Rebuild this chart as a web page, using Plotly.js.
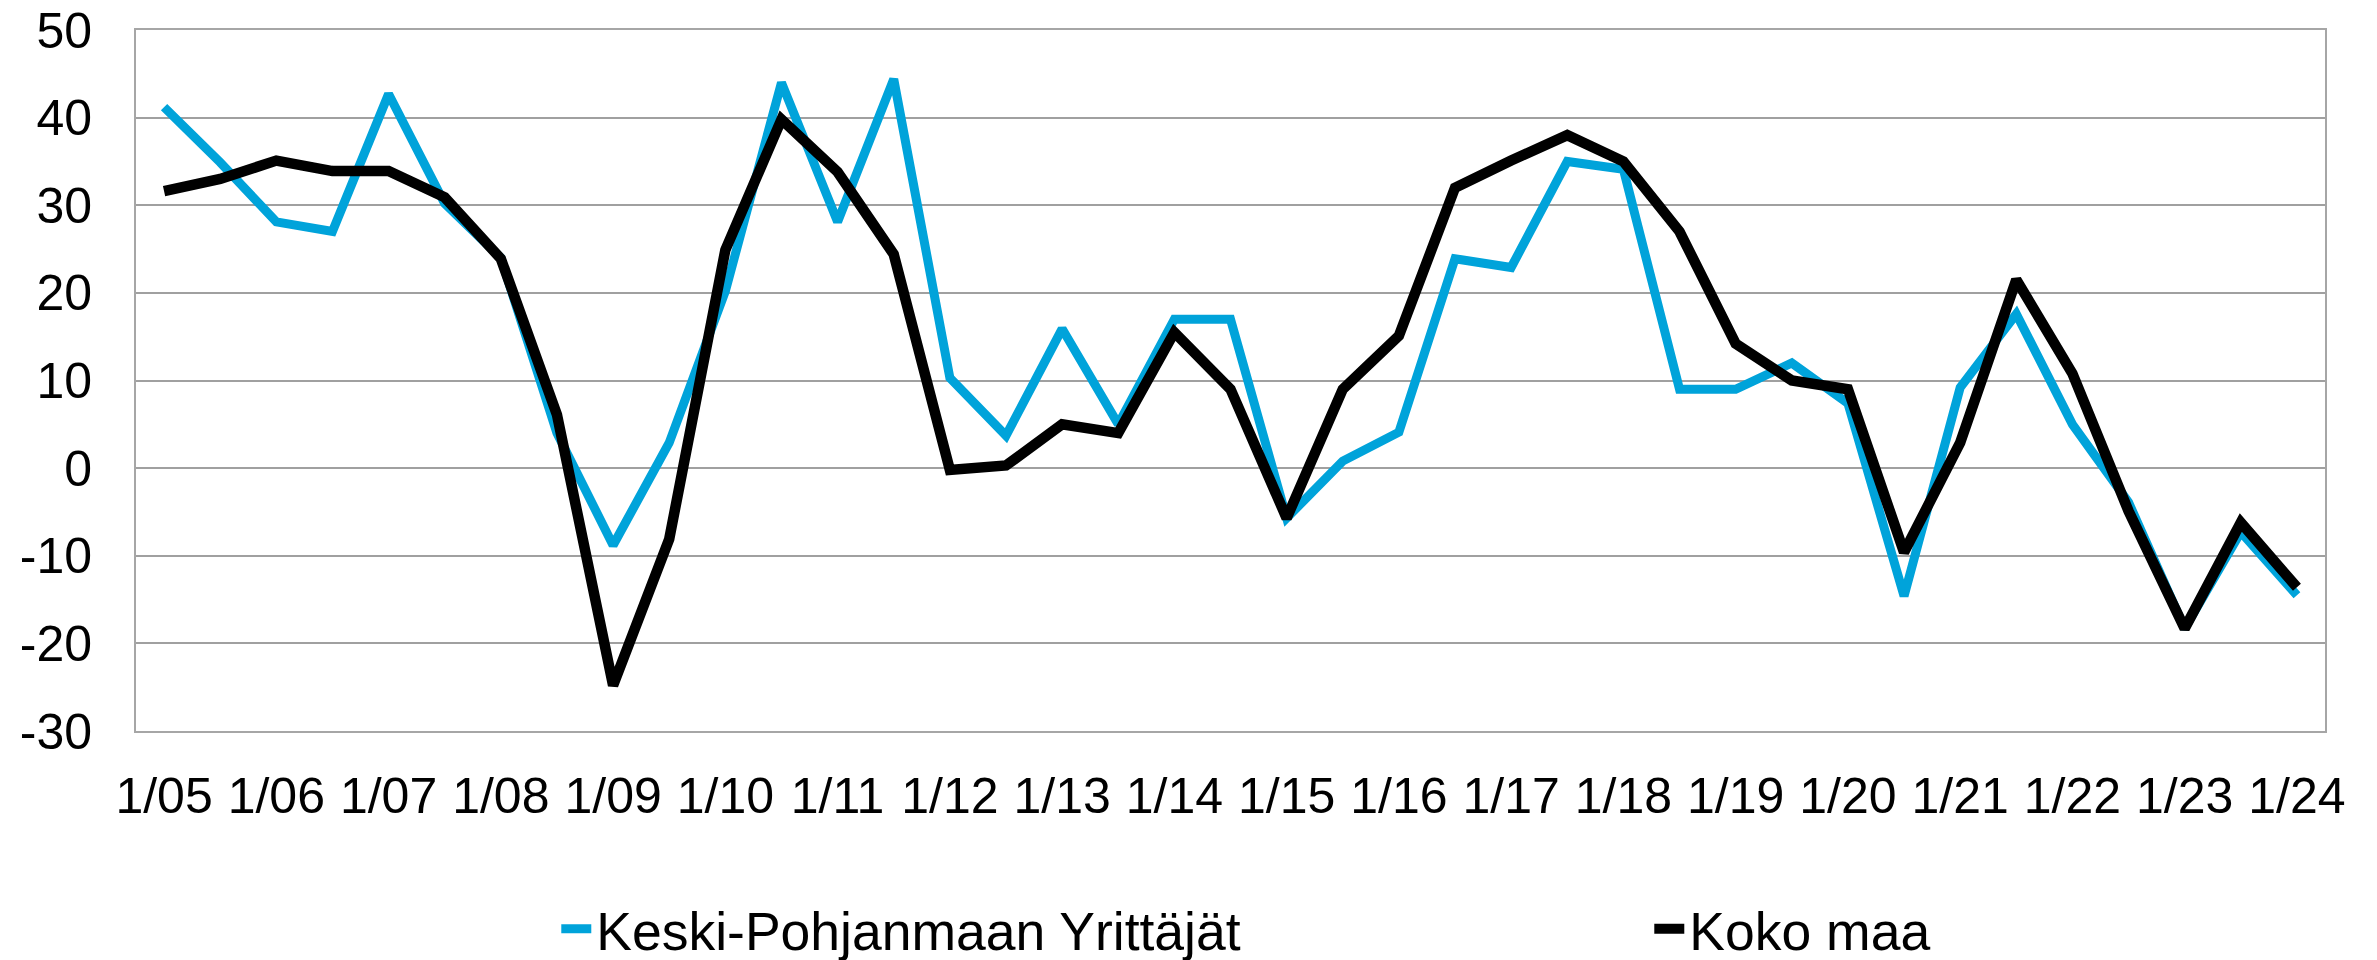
<!DOCTYPE html>
<html>
<head>
<meta charset="utf-8">
<script src="https://cdn.plot.ly/plotly-3.0.1.min.js"></script>
<style>
  html, body { margin: 0; padding: 0; background: #ffffff; }
  #chart { width: 2377px; height: 960px; }
</style>
</head>
<body>
<div id="chart"></div>
<script>
// Half-year survey periods, 2005 - 2024
const periods = [
  '1/05','7/05','1/06','7/06','1/07','7/07','1/08','7/08','1/09','7/09',
  '1/10','7/10','1/11','7/11','1/12','7/12','1/13','7/13','1/14','7/14',
  '1/15','7/15','1/16','7/16','1/17','7/17','1/18','7/18','1/19','7/19',
  '1/20','7/20','1/21','7/21','1/22','7/22','1/23','7/23','1/24'
];

const keskiPohjanmaa = [
  41.2, 34.9, 28.1, 27, 42.7, 30.2, 24, 4, -8.8, 2.9,
  20.2, 44, 28.1, 44.4, 10.3, 3.7, 15.9, 5, 17, 17,
  -5.7, 0.8, 4.1, 23.9, 22.9, 35, 34.1, 9, 9, 12,
  7.4, -14.6, 9.2, 17.6, 5, -3.9, -18.3, -7.3, -14.5
];

const kokoMaa = [
  31.6, 33, 35.1, 33.9, 33.9, 30.9, 23.9, 6.1, -24.8, -8.1,
  24.9, 39.8, 33.8, 24.4, -0.2, 0.3, 5, 4, 15.5, 9,
  -5.7, 9, 15.1, 32, 35.1, 38, 35, 27, 14.2, 10,
  9, -9.6, 2.9, 21.5, 10.8, -4.9, -18.3, -6.2, -13.6
];

const seriesNames = ['Keski-Pohjanmaan Yrittäjät', 'Koko maa'];
const seriesColors = ['#00A3DA', '#000000'];

const xTickVals = periods.filter(p => p.startsWith('1/'));
const xTickText = xTickVals.slice();

const yTickVals = [-30, -20, -10, 0, 10, 20, 30, 40, 50];
const yTickText = ['-30', '-20', '-10', '0', '10', '20', '30', '40', '50'];

const traces = [
  {
    type: 'scatter', mode: 'lines', name: seriesNames[0],
    x: periods, y: keskiPohjanmaa,
    line: { color: seriesColors[0], width: 9, shape: 'linear' },
    legendwidth: 1048,
    hoverinfo: 'x+y+name'
  },
  {
    type: 'scatter', mode: 'lines', name: seriesNames[1],
    x: periods, y: kokoMaa,
    line: { color: seriesColors[1], width: 10.5, shape: 'linear' },
    legendwidth: 260,
    hoverinfo: 'x+y+name'
  }
];

const fontFamily = '"Liberation Sans", Arial, sans-serif';

const layout = {
  width: 2377,
  height: 960,
  paper_bgcolor: '#ffffff',
  plot_bgcolor: '#ffffff',
  margin: { l: 136, r: 52, t: 30, b: 229, pad: 0, autoexpand: false },
  font: { family: fontFamily, size: 50, color: '#000000' },
  showlegend: true,
  legend: {
    orientation: 'h',
    x: 0.192, xanchor: 'left',
    y: -0.2825, yanchor: 'middle',
    font: { family: fontFamily, size: 53.5, color: '#000000' },
    bgcolor: 'rgba(0,0,0,0)',
    borderwidth: 0,
    traceorder: 'normal'
  },
  xaxis: {
    type: 'category',
    range: [-0.5, periods.length - 0.5],
    tickmode: 'array',
    tickvals: xTickVals,
    ticktext: xTickText,
    ticks: '',
    showgrid: false,
    zeroline: false,
    showline: true, mirror: true,
    linecolor: '#a6a6a6', linewidth: 2,
    ticklabelstandoff: 20,
    tickangle: 0,
    tickfont: { family: fontFamily, size: 50, color: '#000000' },
    fixedrange: true
  },
  yaxis: {
    range: [-30, 50],
    tickmode: 'array',
    tickvals: yTickVals,
    ticktext: yTickText,
    ticks: 'outside',
    ticklen: 32,
    tickwidth: 1,
    tickcolor: 'rgba(255,255,255,0)',
    showgrid: true, gridcolor: '#a0a0a0', gridwidth: 2,
    zeroline: false,
    showline: true, mirror: true,
    linecolor: '#a6a6a6', linewidth: 2,
    tickfont: { family: fontFamily, size: 50, color: '#000000' },
    fixedrange: true
  }
};

Plotly.newPlot('chart', traces, layout, { staticPlot: true, displayModeBar: false });
</script>
</body>
</html>
